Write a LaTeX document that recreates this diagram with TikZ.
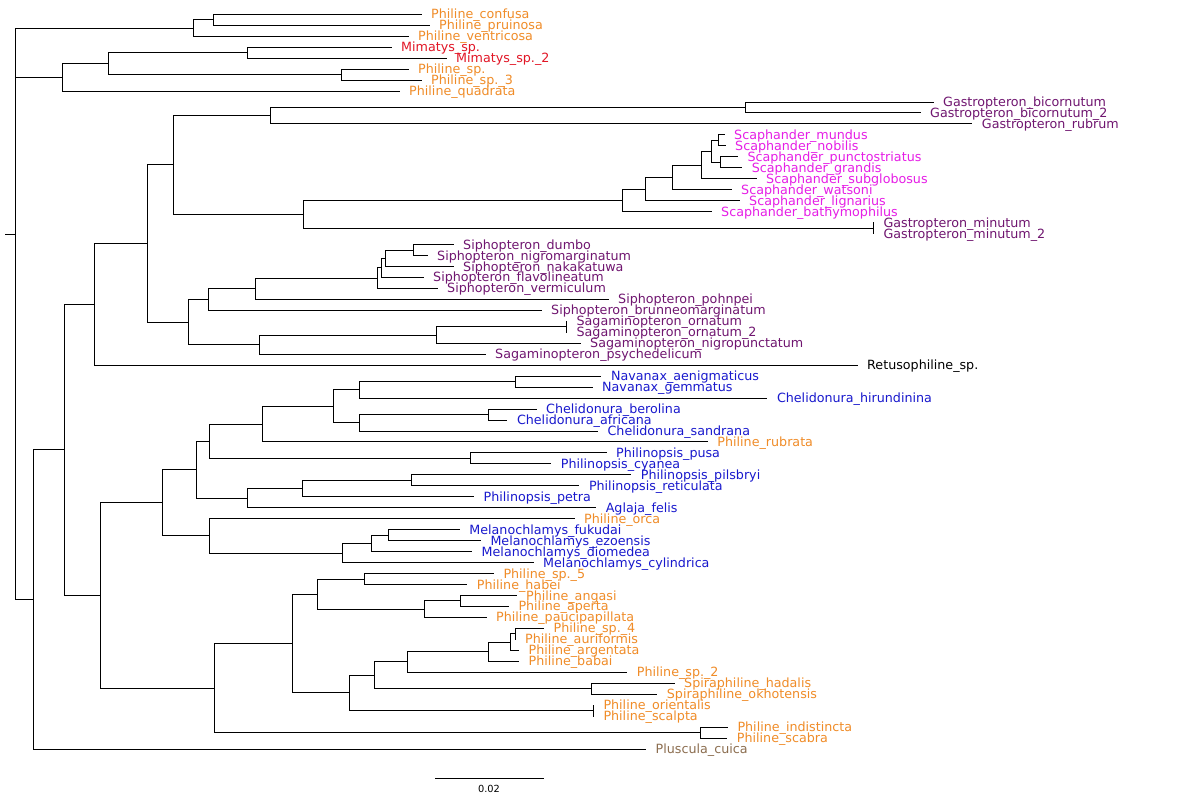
\documentclass[tikz,border=0pt]{standalone}
\usepackage{fontspec}
\setmainfont{DejaVu Sans}
\usetikzlibrary{calc}
\definecolor{orng}{RGB}{240,140,40}
\definecolor{redc}{RGB}{226,22,38}
\definecolor{purp}{RGB}{112,22,112}
\definecolor{mage}{RGB}{230,30,230}
\definecolor{blu}{RGB}{25,25,205}
\definecolor{brwn}{RGB}{140,110,80}
\tikzset{
  br/.style={draw=black,line width=1pt,line cap=rect},
  lab/.style={anchor=base west,inner sep=0pt,font=\fontsize{12.7}{12.7}\selectfont},
  sclab/.style={anchor=base,inner sep=0pt,font=\fontsize{9.8}{9.8}\selectfont}
}
\newcommand{\leaf}[5]{%
  \coordinate (#1) at (#3,{14.3+(#2-1)*10.966});
  \node[lab,text=#4] (#1-t) at ([shift={(10pt,-4.5pt)}]#1) {#5};}
\newcommand{\inode}[4]{%
  \path ($(#3)!.5!(#4)$) coordinate (tmp);
  \coordinate (#1) at (tmp -| #2,0);
  \draw[br] (#1) |- (#3);
  \draw[br] (#1) |- (#4);}
\begin{document}
\begin{tikzpicture}[x=1pt,y=-1pt]
\path[use as bounding box,fill=white] (0,0) rectangle (1199,802);
% leaves
\leaf{confusa}{1}{421}{orng}{Philine\_confusa}
\leaf{pruinosa}{2}{429}{orng}{Philine\_pruinosa}
\leaf{ventricosa}{3}{408}{orng}{Philine\_ventricosa}
\leaf{mim1}{4}{391}{redc}{Mimatys\_sp.}
\leaf{mim2}{5}{446}{redc}{Mimatys\_sp.\_2}
\leaf{phsp}{6}{408}{orng}{Philine\_sp.}
\leaf{phsp3}{7}{421}{orng}{Philine\_sp.\_3}
\leaf{quadrata}{8}{399}{orng}{Philine\_quadrata}
\leaf{gbic}{9}{933}{purp}{Gastropteron\_bicornutum}
\leaf{gbic2}{10}{920}{purp}{Gastropteron\_bicornutum\_2}
\leaf{grub}{11}{971.7}{purp}{Gastropteron\_rubrum}
\leaf{smun}{12}{724}{mage}{Scaphander\_mundus}
\leaf{snob}{13}{725}{mage}{Scaphander\_nobilis}
\leaf{spun}{14}{737.3}{mage}{Scaphander\_punctostriatus}
\leaf{sgra}{15}{741.7}{mage}{Scaphander\_grandis}
\leaf{ssub}{16}{756}{mage}{Scaphander\_subglobosus}
\leaf{swat}{17}{731}{mage}{Scaphander\_watsoni}
\leaf{slig}{18}{739}{mage}{Scaphander\_lignarius}
\leaf{sbat}{19}{711}{mage}{Scaphander\_bathymophilus}
\leaf{gmin}{20}{873.3}{purp}{Gastropteron\_minutum}
\leaf{gmin2}{21}{873.3}{purp}{Gastropteron\_minutum\_2}
\leaf{sdum}{22}{453}{purp}{Siphopteron\_dumbo}
\leaf{snig}{23}{427}{purp}{Siphopteron\_nigromarginatum}
\leaf{snak}{24}{453}{purp}{Siphopteron\_nakakatuwa}
\leaf{sfla}{25}{423}{purp}{Siphopteron\_flavolineatum}
\leaf{sver}{26}{437}{purp}{Siphopteron\_vermiculum}
\leaf{spoh}{27}{608}{purp}{Siphopteron\_pohnpei}
\leaf{sbru}{28}{541}{purp}{Siphopteron\_brunneomarginatum}
\leaf{sorn}{29}{566.4}{purp}{Sagaminopteron\_ornatum}
\leaf{sorn2}{30}{566.4}{purp}{Sagaminopteron\_ornatum\_2}
\leaf{snigp}{31}{580}{purp}{Sagaminopteron\_nigropunctatum}
\leaf{spsy}{32}{485}{purp}{Sagaminopteron\_psychedelicum}
\leaf{retus}{33}{857}{black}{Retusophiline\_sp.}
\leaf{naen}{34}{600.9}{blu}{Navanax\_aenigmaticus}
\leaf{ngem}{35}{592}{blu}{Navanax\_gemmatus}
\leaf{chir}{36}{766.8}{blu}{Chelidonura\_hirundinina}
\leaf{cber}{37}{536}{blu}{Chelidonura\_berolina}
\leaf{cafr}{38}{506.8}{blu}{Chelidonura\_africana}
\leaf{csan}{39}{597.4}{blu}{Chelidonura\_sandrana}
\leaf{prub}{40}{707.2}{orng}{Philine\_rubrata}
\leaf{ppus}{41}{606}{blu}{Philinopsis\_pusa}
\leaf{pcya}{42}{550.7}{blu}{Philinopsis\_cyanea}
\leaf{ppil}{43}{630.7}{blu}{Philinopsis\_pilsbryi}
\leaf{pret}{44}{578.8}{blu}{Philinopsis\_reticulata}
\leaf{ppet}{45}{473.5}{blu}{Philinopsis\_petra}
\leaf{afel}{46}{595.6}{blu}{Aglaja\_felis}
\leaf{porc}{47}{574}{orng}{Philine\_orca}
\leaf{mfuk}{48}{459.2}{blu}{Melanochlamys\_fukudai}
\leaf{mezo}{49}{480.3}{blu}{Melanochlamys\_ezoensis}
\leaf{mdio}{50}{471.5}{blu}{Melanochlamys\_diomedea}
\leaf{mcyl}{51}{533}{blu}{Melanochlamys\_cylindrica}
\leaf{psp5}{52}{493.3}{orng}{Philine\_sp.\_5}
\leaf{phab}{53}{466.7}{orng}{Philine\_habei}
\leaf{pang}{54}{516}{orng}{Philine\_angasi}
\leaf{pape}{55}{508.3}{orng}{Philine\_aperta}
\leaf{ppau}{56}{486}{orng}{Philine\_paucipapillata}
\leaf{psp4}{57}{543.4}{orng}{Philine\_sp.\_4}
\leaf{paur}{58}{515}{orng}{Philine\_auriformis}
\leaf{parg}{59}{518.5}{orng}{Philine\_argentata}
\leaf{pbab}{60}{518.5}{orng}{Philine\_babai}
\leaf{psp2}{61}{626.7}{orng}{Philine\_sp.\_2}
\leaf{shad}{62}{674}{orng}{Spiraphiline\_hadalis}
\leaf{sokh}{63}{656.7}{orng}{Spiraphiline\_okhotensis}
\leaf{pori}{64}{593.3}{orng}{Philine\_orientalis}
\leaf{psca}{65}{593.3}{orng}{Philine\_scalpta}
\leaf{pind}{66}{727.3}{orng}{Philine\_indistincta}
\leaf{pscab}{67}{726.7}{orng}{Philine\_scabra}
\leaf{plus}{68}{645.5}{brwn}{Pluscula\_cuica}
% internal nodes
\inode{AB}{213.2}{confusa}{pruinosa}
\inode{A}{193.3}{AB}{ventricosa}
\inode{M2}{247.6}{mim1}{mim2}
\inode{M3}{341.4}{phsp}{phsp3}
\inode{M1}{108}{M2}{M3}
\inode{M}{62.4}{M1}{quadrata}
\inode{G1}{745.7}{gbic}{gbic2}
\inode{G2}{270.6}{G1}{grub}
\inode{Sa}{718.3}{smun}{snob}
\inode{Sb}{720}{spun}{sgra}
\inode{Sc}{711}{Sa}{Sb}
\inode{Sd}{701.7}{Sc}{ssub}
\inode{Se}{672.7}{Sd}{swat}
\inode{Sf}{645}{Se}{slig}
\inode{Sg}{622.3}{Sf}{sbat}
\inode{Gm}{873.3}{gmin}{gmin2}
\inode{GS}{303.5}{Sg}{Gm}
\inode{T}{173.4}{G2}{GS}
\inode{P1}{413.3}{sdum}{snig}
\inode{P2}{385.4}{P1}{snak}
\inode{P3}{381.6}{P2}{sfla}
\inode{P4}{377.7}{P3}{sver}
\inode{P5}{255.3}{P4}{spoh}
\inode{P6}{208.6}{P5}{sbru}
\inode{Og}{566.4}{sorn}{sorn2}
\inode{Q1}{436.3}{Og}{snigp}
\inode{Q2}{259.9}{Q1}{spsy}
\inode{SP}{188.7}{P6}{Q2}
\inode{U}{147.3}{T}{SP}
\inode{V}{94.9}{U}{retus}
\inode{N1}{515.5}{naen}{ngem}
\inode{N2}{359.7}{N1}{chir}
\inode{C1}{488}{cber}{cafr}
\inode{C2}{359.7}{C1}{csan}
\inode{N3}{333}{N2}{C2}
\inode{N4}{262.5}{N3}{prub}
\inode{Pp1}{470.7}{ppus}{pcya}
\inode{N5}{209.7}{N4}{Pp1}
\inode{Pp2}{411.4}{ppil}{pret}
\inode{Pp3}{302.3}{Pp2}{ppet}
\inode{Pp4}{247.2}{Pp3}{afel}
\inode{N6}{196.3}{N5}{Pp4}
\inode{Me1}{388.4}{mfuk}{mezo}
\inode{Me2}{371.2}{Me1}{mdio}
\inode{Me3}{342.5}{Me2}{mcyl}
\inode{Orc}{209.7}{porc}{Me3}
\inode{N7}{162.6}{N6}{Orc}
\inode{H1}{364.3}{psp5}{phab}
\inode{H2}{460.4}{pang}{pape}
\inode{H3}{424.8}{H2}{ppau}
\inode{H4}{317.6}{H1}{H3}
\inode{K1}{515}{psp4}{paur}
\inode{K2}{510}{K1}{parg}
\inode{K3}{488.3}{K2}{pbab}
\inode{K4}{407.6}{K3}{psp2}
\inode{Spi}{591.7}{shad}{sokh}
\inode{K5}{374.3}{K4}{Spi}
\inode{Ok}{593.3}{pori}{psca}
\inode{K6}{349.4}{K5}{Ok}
\inode{K7}{292.8}{H4}{K6}
\inode{Ind}{700.7}{pind}{pscab}
\inode{K8}{214.3}{K7}{Ind}
\inode{W}{100.3}{N7}{K8}
\inode{C}{64.3}{V}{W}
\inode{B}{33.7}{C}{plus}
% root (trifurcation)
\path ($0.3333*(A)+0.3333*(M)+0.3334*(B)$) coordinate (tmp);
\coordinate (root) at (tmp -| 15.3,0);
\draw[br] (root) |- (A);
\draw[br] (root) |- (M);
\draw[br] (root) |- (B);
\coordinate (stub) at (root -| 5.7,0);
\draw[br] (stub) -- (root);
% scale bar
\coordinate (sb1) at (435,778);
\coordinate (sb2) at (543,778);
\draw[br] (sb1) -- (sb2);
\node[sclab] (sbl) at (489,792.5) {0.02};
\end{tikzpicture}
\end{document}
